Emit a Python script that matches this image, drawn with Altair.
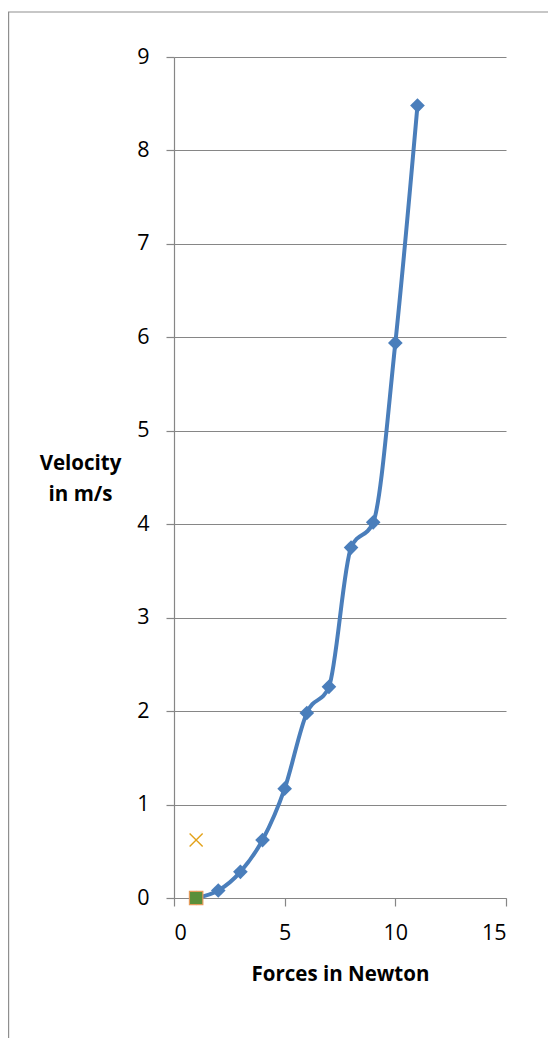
import altair as alt
import pandas as pd

# ---- data ----
forces = [1, 2, 3, 4, 5, 6, 7, 8, 9, 10, 11]
velocity = [0.0, 0.08, 0.28, 0.62, 1.17, 1.98, 2.26, 3.75, 4.02, 5.94, 8.48]

x_marker_force = [1]
x_marker_velocity = [0.62]

square_force = [1]
square_velocity = [0.0]

x_ticks = [0, 5, 10, 15]
y_ticks = [0, 1, 2, 3, 4, 5, 6, 7, 8, 9]

main_df = pd.DataFrame({"force": forces, "velocity": velocity})
xm_df = pd.DataFrame({"force": x_marker_force, "velocity": x_marker_velocity})
sq_df = pd.DataFrame({"force": square_force, "velocity": square_velocity})
dummy = pd.DataFrame({"a": [0]})

FONT = "Open Sans"
GRID = "#868686"
BLUE = "#4A7EBB"

x_enc = alt.X(
    "force:Q",
    scale=alt.Scale(domain=[0, 15], nice=False, zero=False),
    axis=alt.Axis(
        values=x_ticks,
        format="d",
        title="Forces in Newton",
        grid=False,
        tickSize=8,
        labelPadding=16,
        labelFontSize=21.5,
        labelFont=FONT,
        titleFont=FONT,
        titleFontSize=20.5,
        titleFontWeight="bold",
        titleBaseline="alphabetic",
        titleY=82,
        titleX=166,
    ),
)
y_enc = alt.Y(
    "velocity:Q",
    scale=alt.Scale(domain=[0, 9], nice=False),
    axis=alt.Axis(
        values=y_ticks,
        format="d",
        title=["Velocity", "in m/s"],
        grid=True,
        tickSize=8,
        labelPadding=17,
        labelFontSize=21.5,
        labelFont=FONT,
        titleFont=FONT,
        titleFontSize=20.5,
        titleFontWeight="bold",
        titleAngle=0,
        titleAlign="center",
        titleBaseline="alphabetic",
        titleLineHeight=31,
        titleX=-94,
        titleY=412,
    ),
)

line = alt.Chart(main_df).mark_line(
    color=BLUE, strokeWidth=4, interpolate="monotone"
).encode(x=x_enc, y=y_enc)

points = alt.Chart(main_df).mark_point(
    shape="diamond", filled=True, size=215, color=BLUE, opacity=1
).encode(x="force:Q", y="velocity:Q")

xmark = alt.Chart(xm_df).mark_point(
    shape="M-1,-1L1,1M-1,1L1,-1", filled=False, size=170,
    color="#E3A21A", strokeWidth=1.4, opacity=1
).encode(x="force:Q", y="velocity:Q")

square = alt.Chart(sq_df).mark_point(
    shape="square", filled=True, size=180, fill="#5A8F3A",
    stroke="#E39A5A", strokeWidth=1.2, opacity=1
).encode(x="force:Q", y="velocity:Q")

top_border = alt.Chart(dummy).mark_rule(color="#8f8f8f", strokeWidth=1.2).encode(
    x=alt.value(-166), x2=alt.value(400), y=alt.value(-45)
)
left_border = alt.Chart(dummy).mark_rule(color="#8f8f8f", strokeWidth=1.2).encode(
    x=alt.value(-165.4), y=alt.value(-45), y2=alt.value(1000)
)

chart = (
    alt.layer(top_border, left_border, line, points, xmark, square)
    .properties(
        width=332,
        height=841,
        autosize=alt.AutoSizeParams(type="none"),
        padding={"left": 166, "top": 49, "right": 42, "bottom": 140},
        background="white",
    )
    .configure_view(stroke=None)
    .configure_axis(
        domainColor=GRID,
        tickColor=GRID,
        gridColor=GRID,
        domainWidth=1.2,
        tickWidth=1.2,
        gridWidth=1.2,
        labelColor="black",
        titleColor="black",
    )
)

chart.save("out.html", embed_options={"renderer": "svg", "actions": False})
